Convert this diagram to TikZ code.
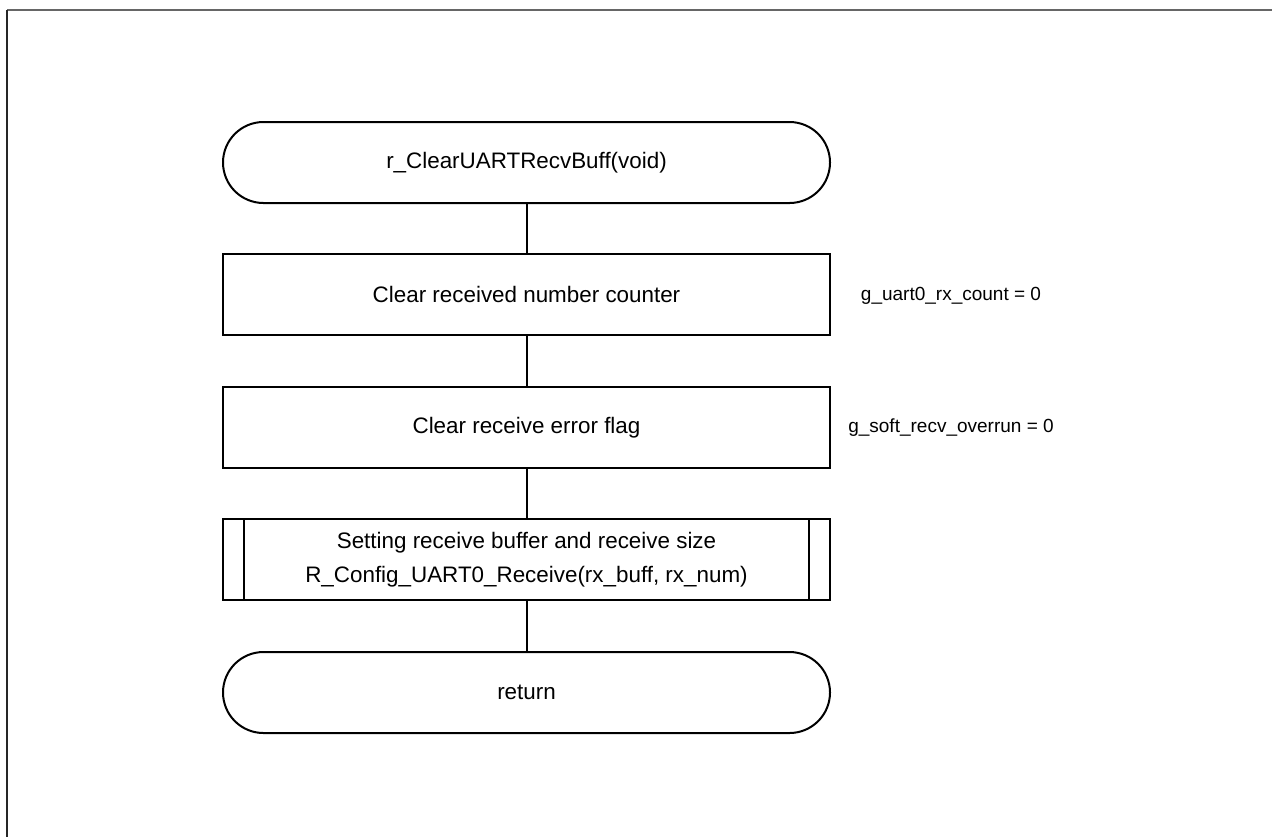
\documentclass[tikz,border=0pt]{standalone}
\usepackage{fontspec}
\setmainfont{Liberation Sans}
\begin{document}
\begin{tikzpicture}[x=0.5pt,y=-0.5pt,
  every node/.style={inner sep=0pt, outer sep=0pt},
  flowline/.style={line width=1pt, black},
  terminal/.style={draw, line width=1pt, rectangle, rounded corners=20.25pt,
    minimum width=303.5pt, minimum height=40.5pt, font=\fontsize{11.2}{13}\selectfont},
  procbox/.style={draw, line width=1pt, rectangle,
    minimum width=303.5pt, minimum height=40.5pt, font=\fontsize{11.2}{13}\selectfont},
  subproc/.style={procbox, align=center, font=\fontsize{11.2}{17}\selectfont},
  note/.style={font=\fontsize{9.5}{11}\selectfont, anchor=center}]
  \useasboundingbox (0,0) rectangle (1272,837);
  % sheet frame
  \draw[line width=1pt, gray!80!black] (7,10) -- (1272,10);
  \draw[line width=1pt, black!85] (7,10) -- (7,837);

  % flowchart
  \node[terminal] (start) at (526.5,162.5) {r\_ClearUARTRecvBuff(void)};
  \node[procbox] (clrcnt) at (526.5,294.5) {Clear received number counter};
  \node[procbox] (clrerr) at (526.5,427.5) {Clear receive error flag};
  \node[subproc] (setbuf) at (526.5,559.5) {Setting receive buffer and receive size\\R\_Config\_UART0\_Receive(rx\_buff, rx\_num)};
  \node[terminal] (ret) at (526.5,692.5) {return};

  % side bars of the predefined process
  \draw[flowline] ([xshift=10.5pt]setbuf.north west) -- ([xshift=10.5pt]setbuf.south west);
  \draw[flowline] ([xshift=-10.5pt]setbuf.north east) -- ([xshift=-10.5pt]setbuf.south east);

  % connectors
  \draw[flowline] (start) -- (clrcnt);
  \draw[flowline] (clrcnt) -- (clrerr);
  \draw[flowline] (clrerr) -- (setbuf);
  \draw[flowline] (setbuf) -- (ret);

  % annotations
  \node[note] (ncnt) at (951,296) {g\_uart0\_rx\_count = 0};
  \node[note] (nerr) at (951,428) {g\_soft\_recv\_overrun = 0};
\end{tikzpicture}
\end{document}
